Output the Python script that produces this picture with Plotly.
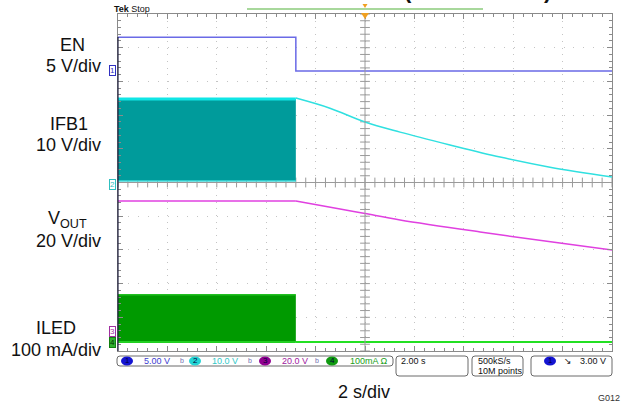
import numpy as np
import plotly.graph_objects as go

# ---------------- data (read from the scope shot) ----------------
ch_names = ["EN", "IFB1", "VOUT", "ILED"]
ch_scale = [5.0, 10.0, 20.0, 100.0]      # units per division
ch_pos = [8.31, 4.955, 0.593, 0.267]      # ground level, divisions from bottom
t_range = [-10.0, 10.0]                   # s (2 s/div, 10 div)

en_t = [-10.0, -2.8, -2.8, 10.0]
en_v = [5.0, 5.0, 0.0, 0.0]

ifb_sw_t = [-10.0, -2.8]
ifb_sw_hi = [25.2, 25.2]
ifb_sw_lo = [0.9, 0.9]
ifb_t = [-2.8, -1.42, 0.0, 1.42, 3.44, 5.47, 7.49, 10.0]
ifb_v = [25.5, 22.5, 18.4, 15.4, 11.6, 8.0, 5.0, 2.1]

vout_t = [-10.0, -2.8, -1.01, 0.0, 1.42, 4.66, 7.89, 10.0]
vout_v = [77.2, 77.2, 72.4, 69.7, 65.9, 58.8, 52.2, 48.1]

iled_sw_t = [-10.0, -2.8]
iled_sw_hi = [140.0, 140.0]
iled_sw_lo = [0.0, 0.0]
iled_t = [-2.8, 10.0]
iled_v = [0.0, 0.0]

status_values = ["5.00 V", "10.0 V", "20.0 V", "100mA Ω"]
timebase = "2.00 s"
rate = ["500kS/s", "10M points"]
trigger = "3.00 V"

# ---------------- geometry ----------------
W, H = 642, 407
L, R, T, B = 118, 612, 14, 351


def P(px, py):
    return (px - L) / (R - L), (B - py) / (B - T)


def ch_range(i):
    return [-ch_pos[i] * ch_scale[i], (10 - ch_pos[i]) * ch_scale[i]]


fig = go.Figure()

# centre graticule ticks
ticks_y = np.arange(0, 10.001, 0.2)
ticks_x = np.arange(-10, 10.001, 0.4)
fig.add_trace(go.Scatter(x=[0] * len(ticks_y), y=ticks_y, mode="markers", yaxis="y",
                         marker=dict(symbol="line-ew", size=7, line=dict(color="#9a9a9a", width=1)),
                         hoverinfo="skip"))
fig.add_trace(go.Scatter(x=ticks_x, y=[5] * len(ticks_x), mode="markers", yaxis="y",
                         marker=dict(symbol="line-ns", size=7, line=dict(color="#9a9a9a", width=1)),
                         hoverinfo="skip"))

# EN
fig.add_trace(go.Scatter(x=en_t, y=en_v, mode="lines", yaxis="y2",
                         line=dict(color="#6a6ae6", width=1.5)))
# IFB1 switching block + decay
fig.add_trace(go.Scatter(x=ifb_sw_t, y=ifb_sw_lo, mode="lines", yaxis="y3",
                         line=dict(color="#40dada", width=1.5)))
fig.add_trace(go.Scatter(x=ifb_sw_t, y=ifb_sw_hi, mode="lines", yaxis="y3", fill="tonexty",
                         fillcolor="#009b9b", line=dict(color="#10e6e6", width=3)))
fig.add_trace(go.Scatter(x=ifb_t, y=ifb_v, mode="lines", yaxis="y3",
                         line=dict(color="#30e0e0", width=1.5, shape="spline")))
# VOUT: flat part, then decay
fig.add_trace(go.Scatter(x=vout_t[:2], y=vout_v[:2], mode="lines", yaxis="y4",
                         line=dict(color="#e040e0", width=1.5)))
fig.add_trace(go.Scatter(x=vout_t[1:], y=vout_v[1:], mode="lines", yaxis="y4",
                         line=dict(color="#e040e0", width=1.5, shape="spline")))
# ILED
fig.add_trace(go.Scatter(x=iled_sw_t, y=iled_sw_lo, mode="lines", yaxis="y5",
                         line=dict(color="#22d022", width=2)))
fig.add_trace(go.Scatter(x=iled_sw_t, y=iled_sw_hi, mode="lines", yaxis="y5", fill="tonexty",
                         fillcolor="#009a00", line=dict(color="#22c022", width=1.5)))
fig.add_trace(go.Scatter(x=iled_t, y=iled_v, mode="lines", yaxis="y5",
                         line=dict(color="#22e022", width=2)))

ann = []
shapes = []
font = "Liberation Sans, Arial, sans-serif"

# left labels
labels = [("EN", "5 V/div", 45, 66, 72),
          ("IFB1", "10 V/div", 124, 145, 69),
          ("V<sub>OUT</sub>", "20 V/div", 219, 241, 67),
          ("ILED", "100 mA/div", 328, 350, 56)]
for a, b, y1, y2, cx in labels:
    x, y = P(cx, y1)
    ann.append(dict(text=a, x=x, y=y, xref="paper", yref="paper", xanchor="center",
                    yanchor="middle", showarrow=False, font=dict(size=18, color="#111", family=font)))
    x, y = P(103, y2)
    ann.append(dict(text=b, x=x, y=y, xref="paper", yref="paper", xanchor="right",
                    yanchor="middle", showarrow=False, font=dict(size=18, color="#111", family=font)))

# channel ground markers
mk = [("1", "#3030c0", "white", "y2"), ("2", "#30c0c0", "white", "y3"),
      ("3", "#a030a0", "white", "y4"), ("4", "#108010", "#30b030", "y5")]
for txt, col, bg, ya in mk:
    ann.append(dict(text=txt, x=P(116, 0)[0], y=0, xref="paper", yref=ya, xanchor="right",
                    yanchor="middle", showarrow=False, bgcolor=bg, bordercolor=col, borderwidth=1,
                    borderpad=0, font=dict(size=8, color=col if txt != "4" else "#003000", family=font)))

# centre cross lines and left edge
shapes.append(dict(type="line", xref="x", yref="paper", x0=0, x1=0, y0=0, y1=1,
                   line=dict(color="#9a9a9a", width=1)))
shapes.append(dict(type="line", xref="paper", yref="y", x0=0, x1=1, y0=5, y1=5,
                   line=dict(color="#9a9a9a", width=1)))
x0, y0 = P(L, B)
x1, y1 = P(L, 37)
shapes.append(dict(type="line", xref="paper", yref="paper", x0=x0, x1=x0, y0=y0, y1=y1,
                   line=dict(color="#202040", width=1.2)))

# top decorations
x, y = P(112, 9)
ann.append(dict(text="<b>Tek</b> Stop", x=x, y=y, xref="paper", yref="paper", xanchor="left",
                yanchor="middle", showarrow=False, font=dict(size=9, color="#111", family=font)))
xa, y = P(247, 9)
xb, _ = P(483, 9)
shapes.append(dict(type="line", xref="paper", yref="paper", x0=xa, x1=xb, y0=y, y1=y,
                   line=dict(color="#a8d89c", width=2)))


def tri(cx, cy, w, h, col):
    xa, ya = P(cx - w / 2, cy - h / 2)
    xb, yb = P(cx + w / 2, cy + h / 2)
    xm = (xa + xb) / 2
    return dict(type="path", xref="paper", yref="paper",
                path=f"M {xa},{ya} L {xb},{ya} L {xm},{yb} Z",
                fillcolor=col, line=dict(color=col, width=0))


shapes.append(tri(365, 6, 5, 4, "#f0a020"))
shapes.append(tri(365, 16, 8, 6, "#f0a020"))
for ch, px in [("(", 408), (")", 547)]:
    x, y = P(px, 5)
    ann.append(dict(text="<b>" + ch + "</b>", x=x, y=y, xref="paper", yref="paper", xanchor="center",
                    yanchor="bottom", showarrow=False, font=dict(size=22, color="#111", family=font)))


# status bar
def rrect(px0, py0, px1, py1, r=3):
    xa, ya = P(px0, py0)
    xb, yb = P(px1, py1)
    rx = r / (R - L)
    ry = r / (B - T)
    p = (f"M {xa+rx},{ya} L {xb-rx},{ya} Q {xb},{ya} {xb},{ya-ry} L {xb},{yb+ry} "
         f"Q {xb},{yb} {xb-rx},{yb} L {xa+rx},{yb} Q {xa},{yb} {xa},{yb+ry} L {xa},{ya-ry} "
         f"Q {xa},{ya} {xa+rx},{ya} Z")
    return dict(type="path", xref="paper", yref="paper", path=p, line=dict(color="#6a6a6a", width=1))


shapes.append(rrect(117, 356, 393, 366))
shapes.append(rrect(396, 356, 468, 376))
shapes.append(rrect(472, 356, 523, 376))
shapes.append(rrect(531, 356, 612, 376))

circ = [(127, "1", "#1414d2"), (195, "2", "#22d4d4"), (265, "3", "#900090"),
        (332, "4", "#109a10"), (550, "1", "#1414d2")]
for px, txt, col in circ:
    xa, ya = P(px - 6, 356.5)
    xb, yb = P(px + 6, 365.5)
    shapes.append(dict(type="circle", xref="paper", yref="paper", x0=xa, x1=xb, y0=ya, y1=yb,
                       fillcolor=col, line=dict(color=col, width=0)))
    x, y = P(px, 361)
    ann.append(dict(text=txt, x=x, y=y, xref="paper", yref="paper", showarrow=False,
                    xanchor="center", yanchor="middle",
                    font=dict(size=8, color="#00003a", family=font)))

st_cols = ["#3c3cd0", "#30c8c8", "#a020a0", "#20a020"]
st_x = [142, 210, 280, 348]
for txt, col, px in zip(status_values, st_cols, st_x):
    x, y = P(px, 361)
    ann.append(dict(text=txt, x=x, y=y, xref="paper", yref="paper", xanchor="left",
                    yanchor="middle", showarrow=False, font=dict(size=9, color=col, family=font)))
for px in [182, 250, 317]:
    x, y = P(px, 361)
    ann.append(dict(text="b", x=x, y=y, xref="paper", yref="paper", showarrow=False,
                    xanchor="center", yanchor="middle",
                    font=dict(size=7, color="#7070b0", family=font)))

for txt, px, py in [(timebase, 399, 361), (rate[0], 476, 361), (rate[1], 476, 371)]:
    x, y = P(px, py)
    ann.append(dict(text=txt, x=x, y=y, xref="paper", yref="paper", xanchor="left",
                    yanchor="middle", showarrow=False, font=dict(size=9, color="#111", family=font)))
x, y = P(568, 361)
ann.append(dict(text="↘", x=x, y=y, xref="paper", yref="paper", showarrow=False,
                xanchor="center", yanchor="middle",
                font=dict(size=9, color="#111", family="DejaVu Sans")))
x, y = P(608, 361)
ann.append(dict(text=trigger, x=x, y=y, xref="paper", yref="paper", xanchor="right",
                yanchor="middle", showarrow=False, font=dict(size=9, color="#111", family=font)))

# bottom captions
x, y = P(364, 392)
ann.append(dict(text="2 s/div", x=x, y=y, xref="paper", yref="paper", showarrow=False,
                xanchor="center", yanchor="middle",
                font=dict(size=18, color="#111", family=font)))
x, y = P(609, 398)
ann.append(dict(text="G012", x=x, y=y, xref="paper", yref="paper", showarrow=False,
                xanchor="center", yanchor="middle",
                font=dict(size=9, color="#333", family=font)))

layout = dict(
    width=W, height=H, margin=dict(l=L, r=W - R, t=T, b=H - B),
    paper_bgcolor="white", plot_bgcolor="white", showlegend=False,
    xaxis=dict(range=t_range, dtick=2, showticklabels=False, showgrid=True,
               gridcolor="#c4c4c4", gridwidth=1, griddash="1px,5.7px", zeroline=False,
               showline=True, linecolor="#8a8a8a", mirror="ticks", ticks="inside",
               ticklen=5, tickcolor="#8a8a8a",
               minor=dict(ticks="inside", dtick=0.4, ticklen=3, tickcolor="#8a8a8a", showgrid=False)),
    yaxis=dict(range=[0, 10], dtick=1, showticklabels=False, showgrid=True,
               gridcolor="#c4c4c4", gridwidth=1, griddash="1px,8.9px", zeroline=False,
               showline=True, linecolor="#8a8a8a", mirror="ticks", ticks="inside",
               ticklen=5, tickcolor="#8a8a8a",
               minor=dict(ticks="inside", dtick=0.2, ticklen=3, tickcolor="#8a8a8a", showgrid=False)),
    annotations=ann, shapes=shapes,
)
for i in range(4):
    layout[f"yaxis{i+2}"] = dict(range=ch_range(i), overlaying="y", visible=False)

fig.update_layout(**layout)
fig.write_html("out.html", config={"displayModeBar": False},
               post_script="document.body.style.margin='0px';document.body.style.overflow='hidden';")
